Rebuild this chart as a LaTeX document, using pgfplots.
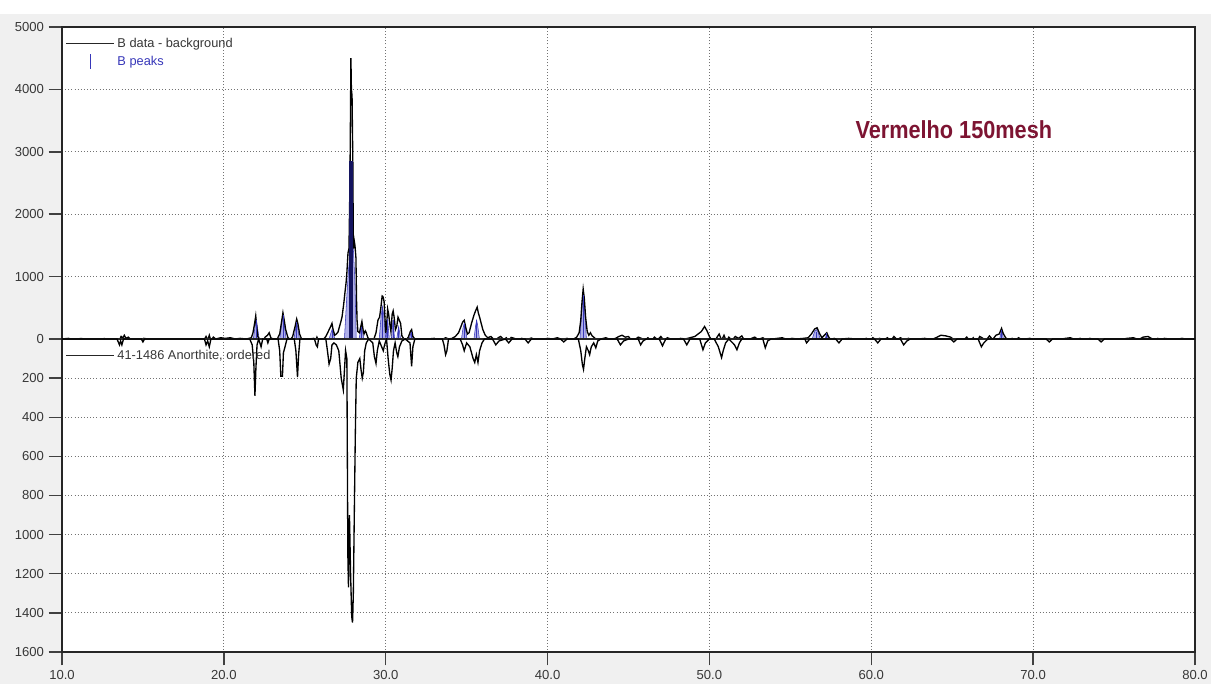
\documentclass[border=0pt]{standalone}
\usepackage{pgfplots}
\pgfplotsset{compat=1.18}
\usepackage{fontspec}
\setmainfont{Liberation Sans}
\newfontfamily\vfont[FakeStretch=0.88]{Liberation Sans}
\definecolor{bggray}{RGB}{240,240,240}
\definecolor{peakfill}{RGB}{175,175,232}
\definecolor{peakline}{RGB}{55,55,185}
\definecolor{navy}{RGB}{20,20,95}
\definecolor{maroon}{RGB}{125,20,50}
\definecolor{txtgray}{RGB}{55,55,55}
\pgfplotsset{
  xrd/.style={
    scale only axis, width=849.75pt,
    xmin=10, xmax=80,
    axis background/.style={fill=white},
    axis line style={black!85, line width=1.1pt},
    tick style={black!75, line width=1.1pt},
    major tick length=10pt,
    grid=major,
    major grid style={black!55, line width=0.75pt, dash pattern=on 0.75pt off 1.6pt},
    ytick pos=left, ytick align=outside,
    tick label style={font=\fontsize{9.8}{10}\selectfont, text=txtgray},
    /pgf/number format/assume math mode=true,
    /pgf/number format/1000 sep={},
    scaled y ticks=false,
    legend cell align=left,
    legend style={at={(axis description cs:0,1)}, anchor=north west, draw=none, fill=none,
      font=\fontsize{9.6}{10}\selectfont, text=txtgray, inner xsep=2.5pt, inner ysep=6pt,
      row sep=1pt},
  }
}
\begin{document}
\begin{tikzpicture}
\useasboundingbox (0,0) rectangle (908.25pt,513pt);
\fill[bggray] (0,0) rectangle (908.25pt,502.5pt);
% ---------- top panel ----------
\begin{axis}[xrd,
  at={(46.5pt,258.75pt)}, anchor=south west, height=234pt,
  ymin=0, ymax=5000, clip=false,
  xtick={10,20,...,80}, xticklabels={}, xtick style={draw=none},
  ytick={0,1000,...,5000},
]
\addplot[draw=peakline, line width=0.4pt, fill=peakfill, forget plot] coordinates {
(10,0) (21.82,0) (21.93,200) (22.0,300) (22.07,200) (22.18,0) (23.45,0) (23.58,250) (23.65,380) (23.72,250) (23.85,0)
(24.33,0) (24.44,180) (24.5,280) (24.56,180) (24.67,0) (26.5,0) (26.62,100) (26.68,150) (26.74,100) (26.86,0)
(27.45,0) (27.6,700) (27.7,1100) (27.85,1500) (28.0,1450) (28.1,900) (28.18,0)
(28.35,0) (28.45,140) (28.5,200) (28.55,140) (28.65,0) (29.6,0) (29.72,380) (29.8,520) (29.88,380) (30.0,0)
(30.02,0) (30.12,320) (30.22,0) (30.35,0) (30.45,300) (30.55,0)
(30.68,0) (30.8,200) (30.92,0) (31.45,0) (31.58,120) (31.7,0)
(34.68,0) (34.78,180) (34.85,250) (34.92,180) (35.02,0) (35.45,0) (35.56,220) (35.62,300) (35.68,220) (35.79,0)
(42.0,0) (42.12,500) (42.2,700) (42.28,500) (42.4,0) (56.35,0) (56.5,120) (56.6,150) (56.7,120) (56.85,0)
(57.15,0) (57.25,90) (57.35,0) (67.93,0) (68.05,150) (68.17,0) (80,0)
} \closedcycle;
\addplot[black, line width=1pt,
  legend image code/.code={\draw[black!85, line width=0.9pt] (0pt,0pt) -- (36pt,0pt);}]
coordinates {
(10.00,0) (10.40,10) (10.60,-5) (10.90,0) (11.20,8) (11.50,-8) (11.80,5) (12.20,-5)
(12.60,6) (13.00,0) (13.40,5) (13.55,-20) (13.65,40) (13.75,15) (13.85,60) (13.95,10)
(14.10,30) (14.25,-10) (14.50,0) (14.90,-15) (15.05,10) (15.30,0) (16.00,5) (16.50,-5)
(17.00,5) (17.50,0) (18.00,-5) (18.50,5) (18.75,-30) (18.90,40) (19.00,-20) (19.10,60)
(19.20,-30) (19.35,30) (19.50,0) (19.80,20) (20.10,10) (20.40,20) (20.70,0) (21.00,10)
(21.40,0) (21.70,20) (21.80,100) (21.90,250) (21.97,370) (22.03,200) (22.10,40) (22.25,-20)
(22.40,-40) (22.55,30) (22.70,60) (22.80,100) (22.90,20) (23.10,-10) (23.30,0) (23.45,80)
(23.55,250) (23.65,420) (23.73,300) (23.82,150) (23.95,30) (24.10,-20) (24.25,40) (24.40,200)
(24.50,320) (24.58,240) (24.68,80) (24.80,0) (25.00,-10) (25.30,0) (25.55,10) (25.65,-40)
(25.75,30) (25.85,-30) (25.95,0) (26.10,-20) (26.30,40) (26.45,120) (26.60,200) (26.68,250)
(26.75,150) (26.85,60) (26.95,80) (27.05,110) (27.20,250) (27.30,350) (27.40,550) (27.48,740)
(27.55,900) (27.60,1060) (27.67,1380) (27.73,1450) (27.79,2500) (27.85,4500) (27.88,4000) (27.92,3900)
(27.97,2800) (28.00,1450) (28.04,1600) (28.10,1500) (28.16,1300) (28.20,600) (28.23,300) (28.28,120)
(28.38,100) (28.46,200) (28.53,280) (28.60,150) (28.66,80) (28.74,130) (28.80,100) (28.90,20)
(29.02,-20) (29.15,-10) (29.27,0) (29.40,100) (29.52,300) (29.62,350) (29.70,500) (29.78,690)
(29.83,680) (29.90,600) (29.95,350) (30.00,100) (30.05,200) (30.12,480) (30.18,400) (30.25,250)
(30.32,120) (30.40,400) (30.46,450) (30.52,350) (30.60,150) (30.68,200) (30.76,350) (30.84,300)
(30.92,250) (31.00,50) (31.10,10) (31.25,-20) (31.40,30) (31.52,120) (31.60,150) (31.68,40)
(31.80,0) (32.00,-10) (32.30,5) (32.60,0) (33.00,10) (33.20,-20) (33.40,-60) (33.55,0)
(33.70,20) (33.90,0) (34.10,10) (34.30,40) (34.50,100) (34.65,200) (34.75,270) (34.85,300)
(34.95,180) (35.05,80) (35.15,100) (35.30,250) (35.45,380) (35.55,450) (35.65,510) (35.72,420)
(35.80,350) (35.90,250) (36.00,150) (36.15,60) (36.30,20) (36.50,40) (36.65,0) (36.80,-40)
(36.95,20) (37.10,40) (37.30,-10) (37.45,20) (37.60,-30) (37.75,25) (37.95,10) (38.20,-20)
(38.40,10) (38.70,-10) (39.00,15) (39.30,-20) (39.60,-40) (39.80,0) (40.00,10) (40.30,0)
(40.60,20) (40.90,-10) (41.20,10) (41.50,-20) (41.80,30) (41.95,100) (42.05,300) (42.13,600)
(42.20,800) (42.27,650) (42.35,350) (42.45,120) (42.55,60) (42.65,100) (42.75,50) (42.90,20)
(43.10,-30) (43.30,0) (43.60,20) (43.90,-10) (44.20,10) (44.40,40) (44.60,60) (44.80,30)
(45.00,40) (45.20,-30) (45.40,-10) (45.60,30) (45.80,10) (46.00,-20) (46.20,20) (46.40,-40)
(46.60,30) (46.80,-10) (47.00,40) (47.20,-30) (47.40,20) (47.60,0) (47.80,-40) (48.00,-20)
(48.20,10) (48.50,0) (48.80,20) (49.10,40) (49.30,80) (49.50,120) (49.70,200) (49.85,130)
(50.00,40) (50.15,-30) (50.30,-50) (50.45,20) (50.60,80) (50.75,-20) (50.90,60) (51.05,-40)
(51.20,30) (51.40,-20) (51.60,40) (51.80,10) (52.00,50) (52.20,-40) (52.40,-20) (52.60,10)
(52.80,30) (53.00,-10) (53.30,20) (53.60,-30) (53.90,0) (54.20,10) (54.50,20) (54.80,-10)
(55.10,10) (55.40,0) (55.80,10) (56.10,20) (56.30,80) (56.50,160) (56.65,180) (56.80,90)
(56.95,20) (57.10,60) (57.25,100) (57.35,40) (57.50,-20) (57.70,10) (57.90,-10) (58.20,0)
(58.60,10) (59.00,0) (59.40,-10) (59.70,10) (59.90,-30) (60.10,20) (60.30,-20) (60.50,10)
(60.80,-10) (61.00,20) (61.20,-30) (61.40,40) (61.60,-10) (61.80,20) (62.00,-10) (62.30,10)
(62.60,-20) (62.90,0) (63.30,10) (63.70,-10) (64.00,20) (64.30,60) (64.60,50) (64.90,30)
(65.10,-10) (65.40,0) (65.70,-20) (65.90,30) (66.10,-40) (66.30,20) (66.50,-60) (66.70,40)
(66.90,10) (67.10,-20) (67.30,50) (67.50,-10) (67.70,60) (67.90,80) (68.05,170) (68.15,90)
(68.30,20) (68.50,-20) (68.70,10) (68.90,-20) (69.10,20) (69.30,-10) (69.50,0) (69.80,10)
(70.10,-10) (70.40,0) (70.70,-10) (71.00,0) (71.50,-10) (72.00,10) (72.30,20) (72.60,-10)
(72.90,10) (73.20,-20) (73.50,10) (73.80,-10) (74.10,0) (74.50,-10) (75.00,0) (75.40,-10)
(75.80,10) (76.20,20) (76.50,-10) (76.80,30) (77.10,40) (77.30,10) (77.50,-20) (77.70,10)
(77.90,-20) (78.10,10) (78.40,0) (78.80,-10) (79.20,10) (79.60,-10) (80.00,0)
};
\addlegendentry{B data - background}
\addplot[ycomb, peakline, line width=0.6pt, mark=none,
  legend image code/.code={\path[draw=none] (0pt,0pt) -- (36pt,0pt); \draw[peakline, line width=0.9pt] (18pt,-5.5pt) -- (18pt,5.5pt);}]
coordinates {
(22.0,300) (23.65,380) (24.5,280) (26.68,150) (28.5,200) (29.8,520) (30.12,320) (30.45,300)
(30.8,200) (31.58,120) (34.85,250) (35.62,300) (42.2,700) (56.6,120) (57.25,90) (68.05,150)
};
\addlegendentry{\textcolor{peakline}{B peaks}}
\addplot[ycomb, navy, line width=2.6pt, mark=none, forget plot] coordinates {(27.85,2850)};
\draw[black, line width=0.9pt] (axis cs:10,0) -- (axis cs:80,0);
\node[font=\vfont\bfseries\fontsize{18.5}{20}\selectfont, text=maroon] at (axis cs:65.1,3350) {Vermelho 150mesh};
\end{axis}
% ---------- bottom panel ----------
\begin{axis}[xrd,
  at={(46.5pt,24pt)}, anchor=south west, height=234.75pt,
  y dir=reverse, ymin=0, ymax=1600,
  xtick={10,20,...,80}, xtick pos=bottom, xtick align=outside,
  x tick label style={/pgf/number format/fixed, /pgf/number format/fixed zerofill, /pgf/number format/precision=1},
  ytick={200,400,...,1600},
]
\addplot[black, line width=1pt,
  legend image code/.code={\draw[black!85, line width=0.9pt] (0pt,0pt) -- (36pt,0pt);}]
coordinates {
(10.00,0) (13.40,0) (13.55,30) (13.62,10) (13.70,30) (13.80,0) (14.90,0) (15.00,15)
(15.10,0) (18.80,0) (18.90,30) (19.00,10) (19.10,40) (19.20,0) (21.60,0) (21.75,30)
(21.85,120) (21.92,290) (21.98,150) (22.05,30) (22.15,0) (22.30,40) (22.40,0) (22.65,0)
(22.72,20) (22.80,0) (23.35,0) (23.45,60) (23.52,190) (23.62,190) (23.68,70) (23.78,40)
(23.90,0) (24.35,0) (24.45,60) (24.55,195) (24.62,80) (24.70,0) (25.60,0) (25.70,30)
(25.78,40) (25.85,0) (26.30,0) (26.40,60) (26.50,128) (26.60,100) (26.68,30) (26.80,20)
(26.95,30) (27.10,60) (27.25,200) (27.38,260) (27.45,160) (27.52,60) (27.60,100) (27.66,1100)
(27.70,1270) (27.76,900) (27.83,1200) (27.90,1420) (27.95,1450) (28.00,1300) (28.06,890) (28.12,500)
(28.18,200) (28.28,120) (28.40,100) (28.48,160) (28.55,200) (28.62,170) (28.70,60) (28.80,20)
(28.95,0) (29.20,20) (29.30,90) (29.40,125) (29.48,60) (29.60,10) (29.75,40) (29.85,60)
(29.93,30) (30.05,0) (30.15,100) (30.25,180) (30.33,210) (30.40,150) (30.48,60) (30.58,20)
(30.68,70) (30.75,90) (30.85,40) (31.00,10) (31.20,0) (31.50,20) (31.60,140) (31.68,40)
(31.80,0) (33.50,0) (33.60,30) (33.70,80) (33.78,60) (33.88,0) (34.60,0) (34.75,30)
(34.85,60) (35.00,20) (35.20,40) (35.40,100) (35.50,120) (35.60,80) (35.70,120) (35.80,60)
(35.95,20) (36.10,0) (36.60,0) (36.80,30) (37.00,10) (37.40,0) (37.60,20) (37.80,0)
(38.60,0) (38.80,20) (39.00,0) (40.80,0) (41.00,15) (41.20,0) (41.90,0) (42.05,60)
(42.15,130) (42.22,155) (42.30,100) (42.40,40) (42.52,60) (42.60,80) (42.70,40) (42.85,20)
(42.98,45) (43.10,10) (43.30,0) (44.30,0) (44.50,30) (44.70,10) (45.00,0) (45.60,0)
(45.75,30) (45.90,10) (46.10,0) (46.90,0) (47.10,35) (47.30,0) (48.40,0) (48.60,30)
(48.80,0) (49.40,0) (49.60,55) (49.75,20) (50.00,0) (50.30,0) (50.55,40) (50.75,95)
(50.85,60) (51.00,20) (51.20,0) (51.55,30) (51.70,55) (51.85,20) (52.00,0) (53.30,0)
(53.45,45) (53.60,10) (53.80,0) (55.90,0) (56.00,20) (56.20,0) (57.80,0) (58.00,20)
(58.20,0) (60.20,0) (60.40,20) (60.60,0) (61.80,0) (62.00,30) (62.20,10) (62.40,0)
(64.90,0) (65.10,15) (65.30,0) (66.60,0) (66.80,40) (66.95,20) (67.20,0) (70.80,0)
(71.00,15) (71.20,0) (74.00,0) (74.20,15) (74.40,0) (80.00,0)
};
\addlegendentry{41-1486 Anorthite, ordered}
\end{axis}
\end{tikzpicture}
\end{document}
